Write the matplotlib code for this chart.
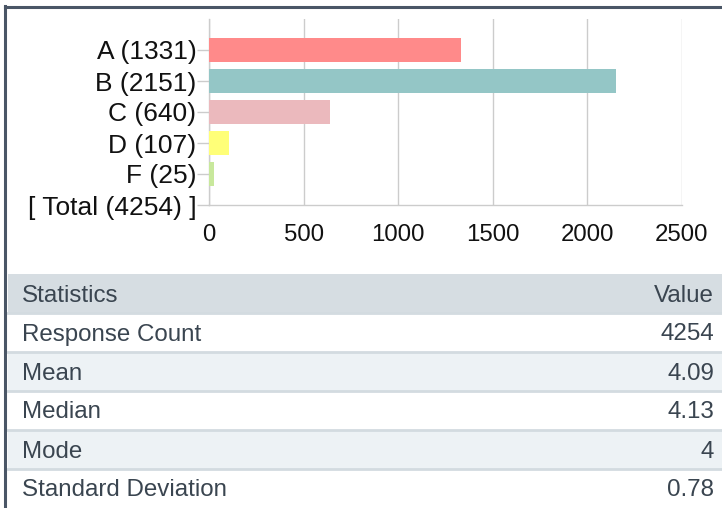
import matplotlib
matplotlib.use("Agg")
import matplotlib.pyplot as plt
from matplotlib.patches import Rectangle
from matplotlib.lines import Line2D

plt.rcParams['font.family'] = ['Liberation Sans', 'DejaVu Sans']

# ---- data ----
grades = ["A", "B", "C", "D", "F"]
counts = [1331, 2151, 640, 107, 25]
total_count = 4254
bar_colors = ["#ff8a8a", "#94c6c6", "#ebb9bd", "#ffff78", "#c8e89c"]
x_ticks = [0, 500, 1000, 1500, 2000, 2500]

stat_header = ["Statistics", "Value"]
stat_names = ["Response Count", "Mean", "Median", "Mode", "Standard Deviation"]
stat_values = ["4254", "4.09", "4.13", "4", "0.78"]

W, H = 722, 508
fig = plt.figure(figsize=(W / 100, H / 100), dpi=100)

def fx(px):
    return px / W

def fy(py):
    return 1 - py / H

# ---- bar chart ----
ax_l, ax_r, ax_t, ax_b = 209, 682, 19, 205
ax = fig.add_axes([fx(ax_l), fy(ax_b), fx(ax_r - ax_l), (ax_b - ax_t) / H])
labels = [f"{g} ({c})" for g, c in zip(grades, counts)] + [f"[ Total ({total_count}) ]"]
ypos = list(range(len(labels)))
ax.barh(ypos[:len(counts)], counts, height=0.8, color=bar_colors, zorder=3)
ax.set_ylim(len(labels) - 1, -1)
ax.set_xlim(0, 2500)
ax.set_yticks(ypos)
ax.set_yticklabels(labels, fontsize=19, color="#111111")
ax.set_xticks(x_ticks)
ax.set_xticklabels([str(t) for t in x_ticks], fontsize=17.3, color="#111111")
ax.tick_params(axis="y", length=8.6, color="#cccccc", width=1, pad=0.5)
ax.tick_params(axis="x", length=0, pad=13.5)
ax.grid(axis="x", color="#cccccc", linewidth=1, zorder=0)
for s in ["top", "right"]:
    ax.spines[s].set_visible(False)
for s in ["left", "bottom"]:
    ax.spines[s].set_color("#cccccc")
    ax.spines[s].set_linewidth(1)

# ---- table ----
tab_l, tab_r = 8, 722
row_top = 274
row_h = 39
text_color = "#3a4550"
for i in range(len(stat_names) + 1):
    y0 = row_top + i * row_h
    if i == 0:
        fc = "#d6dde2"
    elif i % 2 == 0:
        fc = "#edf2f5"
    else:
        fc = "#ffffff"
    fig.patches.append(Rectangle((fx(tab_l), fy(y0 + row_h)), fx(tab_r - tab_l), row_h / H,
                                 transform=fig.transFigure, facecolor=fc, edgecolor="none"))
    if i >= 1:
        fig.lines.append(Line2D([fx(tab_l), fx(tab_r)], [fy(y0), fy(y0)], transform=fig.transFigure,
                                color="#d3dbe0", linewidth=2))
    if i == 0:
        left_txt, right_txt = stat_header
    else:
        left_txt, right_txt = stat_names[i - 1], stat_values[i - 1]
    yc = fy(y0 + row_h / 2 + 2)
    fig.text(fx(22), yc, left_txt, ha="left", va="center", fontsize=17.4, color=text_color)
    fig.text(fx(714), yc, right_txt, ha="right", va="center", fontsize=17.4, color=text_color)

# ---- frame ----
frame_c = "#4a5666"
fig.lines.append(Line2D([fx(5), fx(W)], [fy(6.5), fy(6.5)], transform=fig.transFigure,
                        color=frame_c, linewidth=2.2))
fig.lines.append(Line2D([fx(5), fx(5)], [fy(6), fy(H)], transform=fig.transFigure,
                        color=frame_c, linewidth=2.2))

fig.savefig("out.png", dpi=100)
